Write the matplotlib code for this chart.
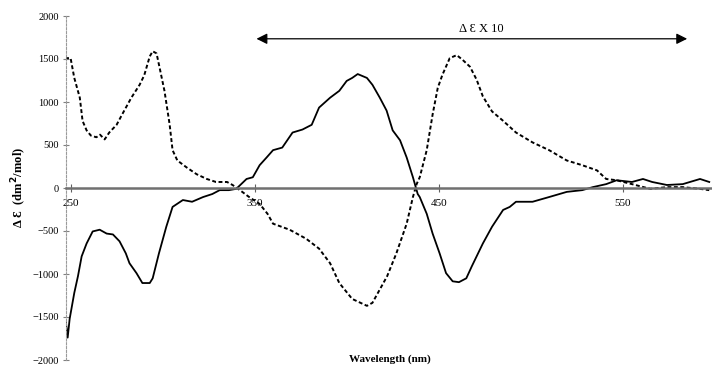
import matplotlib
matplotlib.use("Agg")
import matplotlib.pyplot as plt

plt.rcParams['font.family'] = ['Liberation Serif', 'DejaVu Serif']

# curve with the dotted look (wavelength nm, delta epsilon)
wl_a = [247, 250, 252, 255, 256.5, 258.7, 261, 264, 266, 268.5, 271, 275, 278,
        283, 287.5, 290, 293, 294.6, 296.7, 298.4, 301, 303.8, 305.4, 308, 313,
        318.5, 324, 329, 335, 338, 342, 347, 352.7, 357, 360, 369, 378, 385,
        391, 396, 403, 411, 414, 422, 427, 432.6, 436, 438, 439.7, 443.5,
        446.7, 449.5, 452, 456, 459.8, 463, 467, 470.6, 474, 479, 484.8, 492,
        501, 510, 519.6, 528, 536, 541, 546.7, 555, 565, 574, 582.6, 592, 597]
de_a = [1510, 1510, 1280, 1050, 780, 670, 610, 590, 620, 565, 645, 735, 855,
        1050, 1200, 1310, 1530, 1590, 1565, 1395, 1130, 740, 440, 320, 240,
        160, 105, 70, 70, 35, -25, -105, -185, -300, -415, -485, -590, -705,
        -875, -1105, -1290, -1370, -1335, -1025, -760, -415, -105, 45, 125, 440,
        855, 1165, 1315, 1510, 1545, 1490, 1410, 1260, 1065, 890, 785, 645,
        530, 440, 320, 265, 205, 105, 90, 45, -10, 10, 10, -10, -25]

# solid curve
wl_b = [247.5, 248.4, 249.5, 252, 254, 256, 258.7, 262, 265.8, 269.6, 273,
        276.6, 280, 282, 285.8, 289, 293, 294.6, 298, 302, 305.4, 311, 316,
        322, 327, 331, 336, 340, 345.6, 349, 352.7, 356.5, 360, 365, 370.6,
        376, 381, 385, 391, 396, 400, 403, 406, 411, 414, 418, 421.7, 425,
        429, 432.6, 436, 438.6, 439.7, 443.5, 446.7, 450.5, 454, 457.6, 461,
        465, 468, 474, 479, 485, 488.6, 492, 501, 510, 519.6, 528, 533.7, 541,
        546.7, 555, 561, 566, 574, 582.6, 592, 597]
de_b = [-1570, -1740, -1520, -1220, -1025, -795, -645, -505, -485, -530, -540,
        -620, -760, -875, -990, -1105, -1105, -1050, -760, -450, -220, -140,
        -160, -105, -70, -25, -25, -10, 105, 125, 265, 355, 440, 470, 645,
        680, 735, 935, 1050, 1130, 1245, 1280, 1325, 1280, 1200, 1050, 900,
        670, 555, 355, 125, -70, -105, -300, -530, -760, -990, -1085, -1095,
        -1050, -910, -645, -450, -255, -220, -160, -160, -105, -45, -25, 10,
        45, 90, 70, 105, 70, 35, 45, 105, 70]

x_ticks = [250, 350, 450, 550]
y_ticks = [-2000, -1500, -1000, -500, 0, 500, 1000, 1500, 2000]
arrow_span = (351, 585)
arrow_level = 1735
scale_note = "\u0394 \u0190 X 10"

fig = plt.figure(figsize=(7.12, 3.66), dpi=100)
ax = fig.add_axes([66 / 712, 6 / 366, 646 / 712, 344 / 366])

ax.plot(wl_a, de_a, color='black', lw=1.4, ls=(0, (2.0, 1.3)))
ax.plot(wl_b, de_b, color='black', lw=1.3)

ax.set_xlim(247.5, 598.5)
ax.set_ylim(-2000, 2000)

ax.spines['top'].set_visible(False)
ax.spines['right'].set_visible(False)
ax.spines['bottom'].set_position(('data', 0))
ax.spines['bottom'].set_color('#707070')
ax.spines['bottom'].set_linewidth(1.8)
ax.spines['left'].set_color('#9a9a9a')
ax.spines['left'].set_linewidth(0.8)
ax.spines['left'].set_linestyle((0, (2, 1.5)))

ax.set_xticks(x_ticks)
ax.set_yticks(y_ticks)
ax.tick_params(axis='x', direction='inout', length=6, width=0.8,
               color='#606060', labelsize=8, pad=5)
ax.tick_params(axis='y', direction='inout', length=4, width=0.8,
               color='#808080', labelsize=7.5, pad=3)

ax.annotate('', xy=(arrow_span[0], arrow_level), xytext=(arrow_span[1], arrow_level),
            arrowprops=dict(arrowstyle='<|-|>', color='black', lw=0.9,
                            mutation_scale=16, shrinkA=0, shrinkB=0))
ax.text(473, arrow_level + 40, scale_note, ha='center', va='bottom', fontsize=9)

fig.text(390 / 712, 1 - 359 / 366, 'Wavelength (nm)', ha='center', va='center',
         fontsize=8, fontweight='bold')
fig.text(19 / 712, 1 - 187 / 366, '\u0394 \u0190  (dm$^{\\mathbf{2}}$/mol)',
         rotation=90, ha='center', va='center', fontsize=9, fontweight='bold')

fig.savefig('out.png', dpi=100)
